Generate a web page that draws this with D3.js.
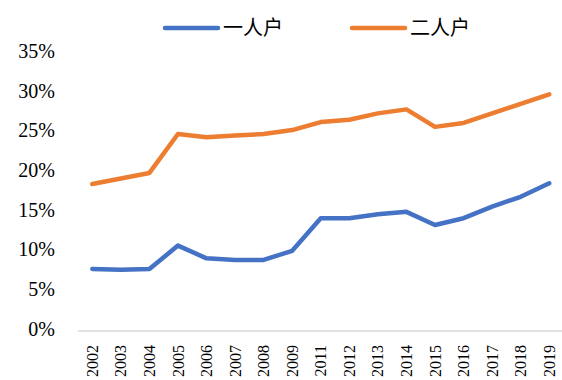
<!DOCTYPE html>
<html>
<head>
<meta charset="utf-8">
<script src="https://cdn.jsdelivr.net/npm/d3@7"></script>
<style>
    body { margin: 0; background: #fff; }
</style>
</head>
<body>
<div id="chart"></div>
<script>
const years = ['2002', '2003', '2004', '2005', '2006', '2007', '2008', '2009', '2011',
    '2012', '2013', '2014', '2015', '2016', '2017', '2018', '2019'];
const onePerson = [7.8, 7.7, 7.8, 10.75, 9.15, 8.95, 8.95, 10.1, 14.2,
    14.2, 14.7, 15.0, 13.35, 14.2, 15.65, 16.9, 18.6];
const twoPerson = [18.5, 19.2, 19.9, 24.8, 24.4, 24.6, 24.8, 25.3, 26.3,
    26.6, 27.4, 27.9, 25.7, 26.2, 27.4, 28.6, 29.8];
const yTicks = [0, 5, 10, 15, 20, 25, 30, 35];
const seriesNames = ['一人户', '二人户'];
const colors = ['#4472C4', '#ED7D31'];

const width = 562;
const height = 380;
const margin = { top: 53, right: 0, bottom: 49, left: 78 };
const serif = "'Liberation Serif', 'DejaVu Serif', serif";

const svg = d3.select('#chart').append('svg')
    .attr('width', width)
    .attr('height', height);

const x = d3.scaleBand()
    .domain(years)
    .range([margin.left, margin.left + 28.56 * years.length]);

const y = d3.scaleLinear()
    .domain([0, 35])
    .range([height - margin.bottom, margin.top]);

// y axis labels only
const yAxis = d3.axisLeft(y)
    .tickValues(yTicks)
    .tickFormat((d) => `${d}%`)
    .tickSize(0)
    .tickPadding(0);

svg.append('g')
    .attr('transform', 'translate(55, -2)')
    .call(yAxis)
    .attr('font-family', serif)
    .attr('font-size', 20)
    .call((g) => g.select('.domain').remove())
    .selectAll('text')
    .attr('fill', '#000');

// x axis
const xAxis = d3.axisBottom(x).tickSize(0).tickPadding(0);

svg.append('g')
    .attr('transform', `translate(0, ${y(0)})`)
    .call(xAxis)
    .attr('font-family', serif)
    .attr('font-size', 16)
    .call((g) => g.select('.domain')
        .attr('stroke', '#D9D9D9')
        .attr('stroke-width', 1.5)
        .attr('d', `M${margin.left},0H${width}`))
    .selectAll('text')
    .attr('fill', '#000')
    .attr('transform', 'rotate(-90)')
    .attr('text-anchor', 'end')
    .attr('x', -14)
    .attr('y', 0)
    .attr('dy', '0.35em');

const line = d3.line()
    .x((d, i) => x(years[i]) + x.bandwidth() / 2)
    .y((d) => y(d));

[onePerson, twoPerson].forEach((s, i) => {
    svg.append('path')
        .datum(s)
        .attr('fill', 'none')
        .attr('stroke', colors[i])
        .attr('stroke-width', 4.5)
        .attr('stroke-linejoin', 'round')
        .attr('stroke-linecap', 'round')
        .attr('d', line);
});

// legend
const legend = svg.append('g')
    .attr('font-family', "'Noto Sans CJK SC', sans-serif")
    .attr('font-size', 20);
const legendX = [165, 352];
seriesNames.forEach((name, i) => {
    const g = legend.append('g').attr('transform', `translate(${legendX[i]}, 28)`);
    g.append('line')
        .attr('x1', 0)
        .attr('x2', 53)
        .attr('stroke', colors[i])
        .attr('stroke-width', 4.5)
        .attr('stroke-linecap', 'round');
    g.append('text')
        .attr('x', 58)
        .attr('dy', '0.35em')
        .attr('fill', '#000')
        .text(name);
});
</script>
</body>
</html>
